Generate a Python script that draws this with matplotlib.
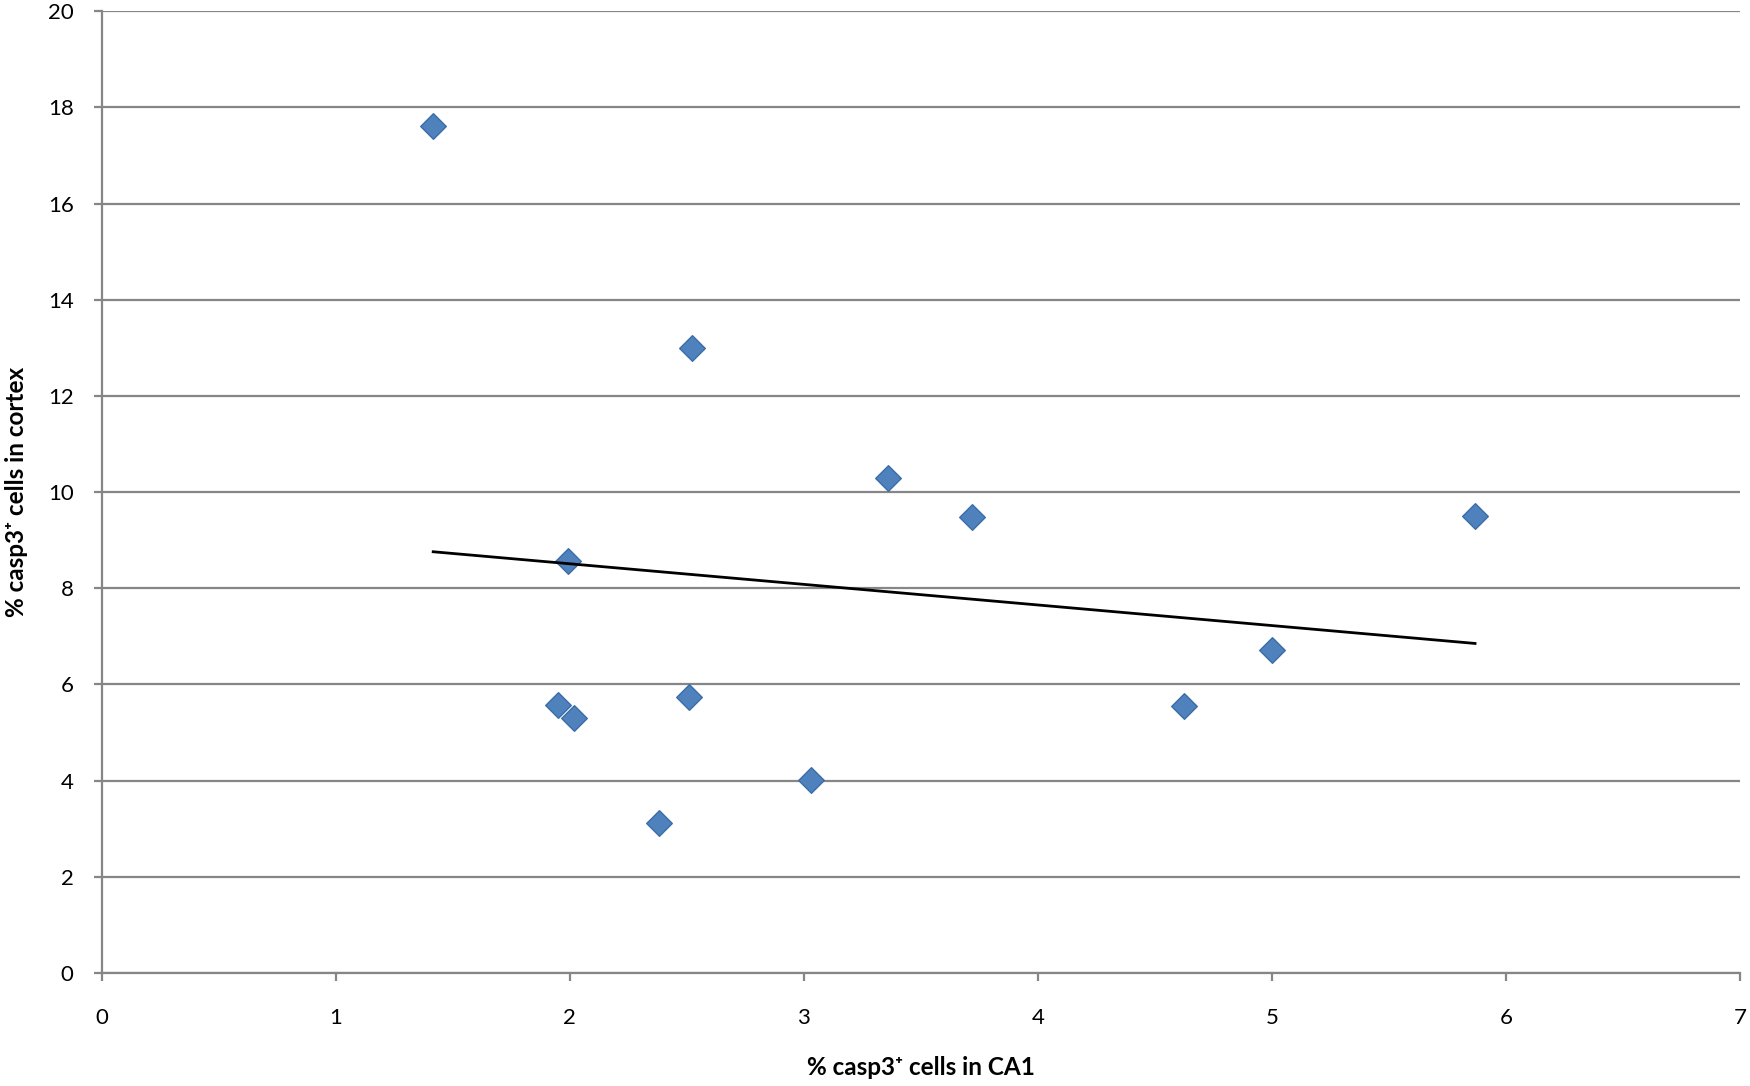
import numpy as np
import matplotlib
matplotlib.use('Agg')
import matplotlib.pyplot as plt

# % casp3+ cells
ca1_pct = [1.417, 2.524, 3.359, 3.717, 5.868, 1.994, 1.951, 2.018, 2.510, 2.381, 3.030, 4.623, 5.000]
cortex_pct = [17.61, 12.99, 10.30, 9.49, 9.51, 8.56, 5.57, 5.31, 5.75, 3.11, 4.01, 5.55, 6.71]

x_ticks = [0, 1, 2, 3, 4, 5, 6, 7]
y_ticks = [0, 2, 4, 6, 8, 10, 12, 14, 16, 18, 20]

plt.rcParams['font.family'] = ['Lato', 'DejaVu Sans']

grid_col = '#868686'

fig = plt.figure(figsize=(17.5, 10.86), dpi=100)
ax = fig.add_axes([0.058, 0.104, 0.9363, 0.8857])

x = np.array(ca1_pct)
y = np.array(cortex_pct)

ax.scatter(x, y, marker='D', s=170, color='#4F81BD', edgecolors='#3A6EA8',
           linewidths=1.0, zorder=3)

# linear trend line over the data range
slope, intercept = np.polyfit(x, y, 1)
xs = np.array([x.min(), x.max()])
ax.plot(xs, slope * xs + intercept, color='black', lw=2.0, zorder=4)

ax.set_xlim(0, 7)
ax.set_ylim(0, 20)
ax.set_xticks(x_ticks)
ax.set_yticks(y_ticks)
ax.yaxis.grid(True, color=grid_col, lw=1.6)
ax.set_axisbelow(True)

for side in ['top', 'right']:
    ax.spines[side].set_visible(False)
for side in ['left', 'bottom']:
    ax.spines[side].set_color(grid_col)
    ax.spines[side].set_linewidth(1.6)

ax.tick_params(axis='x', direction='out', length=6, width=1.6, color=grid_col,
               pad=19, labelsize=16)
ax.tick_params(axis='y', direction='out', length=6, width=1.6, color=grid_col,
               pad=14, labelsize=16)

ax.set_xlabel('% casp3\u207a cells in CA1', fontsize=17.5, fontweight='bold', labelpad=20)
ax.set_ylabel('% casp3\u207a cells in cortex', fontsize=17.5, fontweight='bold', labelpad=14)

fig.savefig('out.png', dpi=100, facecolor='white')
